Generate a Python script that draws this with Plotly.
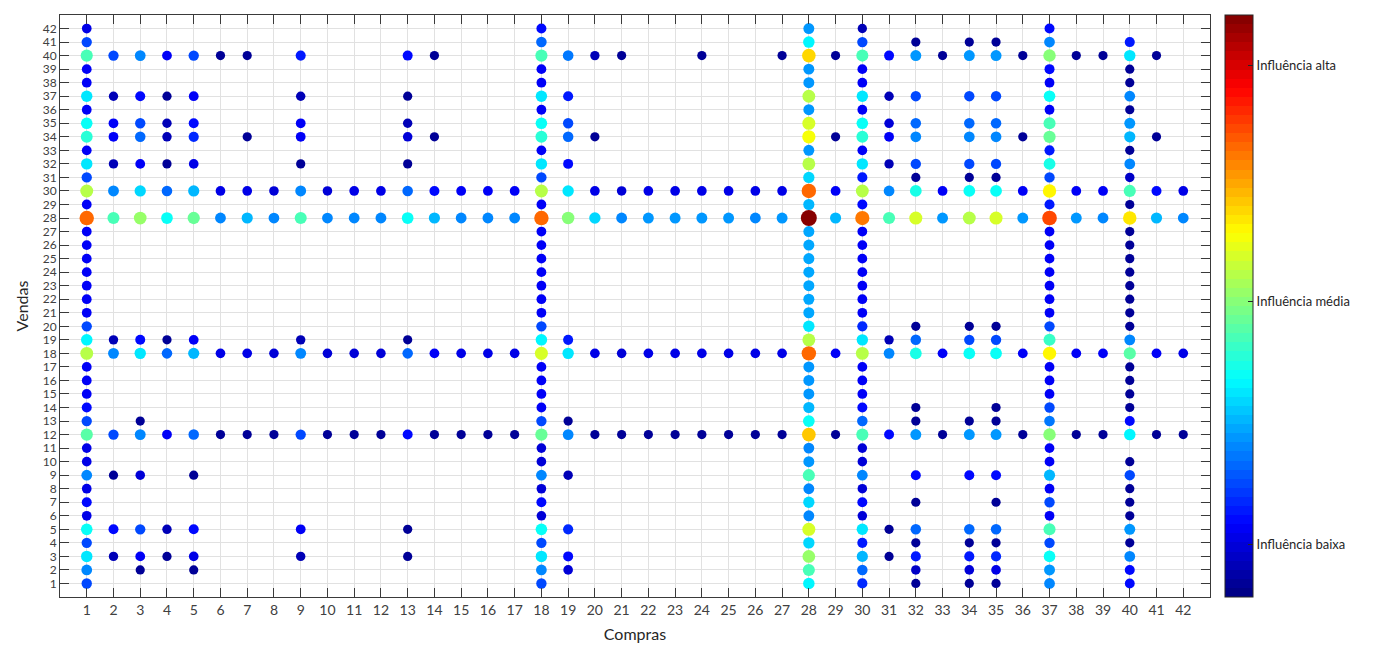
import plotly.graph_objects as go

# ---------------- data ----------------
axis_ticks = list(range(1, 43))

# full columns: values for Vendas = 1..42 (None = no point)
col_1 = [0.20, 0.25, 0.35, 0.19, 0.375, 0.10, 0.14, 0.10, 0.25, 0.10,
         0.10, 0.46, 0.19, 0.14, 0.11, 0.11, 0.11, 0.56, 0.36, 0.19,
         0.11, 0.11, 0.11, 0.11, 0.11, 0.11, 0.11, 0.78, 0.11, 0.56,
         0.19, 0.345, 0.11, 0.41, 0.375, 0.11, 0.345, 0.11, 0.11, 0.45,
         0.19, 0.10]
col_18 = [0.20, 0.25, 0.35, 0.19, 0.375, 0.09, 0.14, 0.09, 0.25, 0.09,
          0.09, 0.47, 0.19, 0.11, 0.11, 0.11, 0.11, 0.58, 0.36, 0.19,
          0.11, 0.11, 0.11, 0.11, 0.11, 0.11, 0.11, 0.78, 0.11, 0.56,
          0.19, 0.345, 0.11, 0.42, 0.375, 0.11, 0.345, 0.11, 0.11, 0.45,
          0.22, 0.14]
col_28 = [0.36, 0.44, 0.53, 0.34, 0.58, 0.265, 0.33, 0.265, 0.45, 0.28,
          0.265, 0.68, 0.39, 0.31, 0.28, 0.28, 0.28, 0.78, 0.56, 0.35,
          0.29, 0.29, 0.29, 0.29, 0.29, 0.29, 0.29, 1.00, 0.31, 0.78,
          0.33, 0.55, 0.28, 0.61, 0.58, 0.28, 0.55, 0.28, 0.28, 0.66,
          0.36, 0.28]
col_30 = [0.17, 0.22, 0.31, 0.156, 0.345, 0.08, 0.14, 0.08, 0.25, 0.08,
          0.08, 0.45, 0.22, 0.14, 0.11, 0.11, 0.11, 0.56, 0.345, 0.17,
          0.11, 0.11, 0.11, 0.11, 0.11, 0.11, 0.11, 0.75, 0.14, 0.56,
          0.156, 0.345, 0.11, 0.41, 0.375, 0.11, 0.345, 0.11, 0.11, 0.44,
          0.19, 0.05]
col_37 = [0.25, 0.28, 0.375, 0.20, 0.44, 0.11, 0.20, 0.11, 0.31, 0.11,
          0.11, 0.50, 0.235, 0.19, 0.11, 0.11, 0.11, 0.625, 0.43, 0.19,
          0.11, 0.11, 0.11, 0.11, 0.11, 0.11, 0.11, 0.81, 0.156, 0.625,
          0.20, 0.40, 0.156, 0.47, 0.44, 0.11, 0.375, 0.11, 0.14, 0.50,
          0.25, 0.14]
col_40 = [0.125, 0.14, 0.25, 0.03, 0.28, 0.03, 0.03, 0.03, 0.20, 0.03,
          None, 0.36, 0.14, 0.03, 0.03, 0.03, 0.03, 0.46, 0.265, 0.03,
          0.03, 0.03, 0.03, 0.03, 0.03, 0.03, 0.03, 0.645, 0.03, 0.45,
          0.07, 0.25, 0.03, 0.31, 0.28, 0.03, 0.25, 0.03, 0.03, 0.345,
          0.156, None]
full_columns = [1, 18, 28, 30, 37, 40]

# full rows: values for Compras = 1..42 (None where a full column already has the point)
row_12 = [None, 0.19, 0.265, 0.11, 0.22, 0.03, 0.03, 0.03, 0.19, 0.03,
          0.03, 0.03, 0.14, 0.03, 0.03, 0.03, 0.03, None, 0.25, 0.03,
          0.03, 0.03, 0.03, 0.03, 0.03, 0.03, 0.03, None, 0.03, None,
          0.14, 0.28, 0.03, 0.28, 0.28, 0.03, None, 0.03, 0.03, None,
          0.03, 0.03]
row_18 = [None, 0.265, 0.345, 0.22, 0.31, 0.10, 0.10, 0.08, 0.265, 0.08,
          0.08, 0.08, 0.22, 0.11, 0.10, 0.10, 0.10, None, 0.345, 0.10,
          0.08, 0.10, 0.10, 0.10, 0.10, 0.10, 0.10, None, 0.11, None,
          0.25, 0.40, 0.12, 0.39, 0.39, 0.11, None, 0.11, 0.11, None,
          0.12, 0.10]
row_28 = [None, 0.44, 0.53, 0.39, 0.47, 0.265, 0.31, 0.25, 0.44, 0.25,
          0.26, 0.265, 0.39, 0.31, 0.265, 0.265, 0.265, None, 0.50, 0.33,
          0.265, 0.28, 0.28, 0.28, 0.28, 0.265, 0.28, None, 0.30, None,
          0.44, 0.58, 0.28, 0.56, 0.58, 0.28, None, 0.28, 0.265, None,
          0.31, 0.25]
row_30 = [None, 0.265, 0.33, 0.22, 0.31, 0.10, 0.10, 0.08, 0.265, 0.08,
          0.10, 0.10, 0.22, 0.14, 0.11, 0.11, 0.11, None, 0.345, 0.10,
          0.08, 0.10, 0.10, 0.10, 0.10, 0.10, 0.10, None, 0.11, None,
          0.25, 0.40, 0.11, 0.39, 0.39, 0.11, None, 0.11, 0.11, None,
          0.14, 0.10]
full_rows = [12, 18, 28, 30]

# remaining isolated points
extra_vendas = [41, 41, 41,
                40, 40, 40, 40, 40, 40, 40, 40, 40, 40, 40, 40, 40, 40, 40, 40, 40, 40, 40, 40, 40, 40, 40, 40,
                37, 37, 37, 37, 37, 37, 37, 37, 37, 37, 37,
                35, 35, 35, 35, 35, 35, 35, 35, 35, 35, 35,
                34, 34, 34, 34, 34, 34, 34, 34, 34, 34, 34, 34, 34, 34, 34, 34, 34,
                32, 32, 32, 32, 32, 32, 32, 32, 32, 32, 32,
                31, 31, 31,
                20, 20, 20,
                19, 19, 19, 19, 19, 19, 19, 19, 19, 19, 19,
                14, 14,
                13, 13, 13, 13, 13,
                9, 9, 9, 9, 9, 9, 9,
                7, 7,
                5, 5, 5, 5, 5, 5, 5, 5, 5, 5, 5,
                4, 4, 4,
                3, 3, 3, 3, 3, 3, 3, 3, 3, 3, 3,
                2, 2, 2, 2, 2, 2,
                1, 1, 1]
extra_compras = [32, 34, 35,
                 2, 3, 4, 5, 6, 7, 9, 13, 14, 19, 20, 21, 24, 27, 29, 31, 32, 33, 34, 35, 36, 38, 39, 41,
                 2, 3, 4, 5, 9, 13, 19, 31, 32, 34, 35,
                 2, 3, 4, 5, 9, 13, 19, 31, 32, 34, 35,
                 2, 3, 4, 5, 7, 9, 13, 14, 19, 20, 29, 31, 32, 34, 35, 36, 41,
                 2, 3, 4, 5, 9, 13, 19, 31, 32, 34, 35,
                 32, 34, 35,
                 32, 34, 35,
                 2, 3, 4, 5, 9, 13, 19, 31, 32, 34, 35,
                 32, 35,
                 3, 19, 32, 34, 35,
                 2, 3, 5, 19, 32, 34, 35,
                 32, 35,
                 2, 3, 4, 5, 9, 13, 19, 31, 32, 34, 35,
                 32, 34, 35,
                 2, 3, 4, 5, 9, 13, 19, 31, 32, 34, 35,
                 3, 5, 19, 32, 34, 35,
                 32, 34, 35]
extra_influencia = [0.03, 0.03, 0.03,
                    0.19, 0.25, 0.11, 0.20, 0.03, 0.03, 0.156, 0.14, 0.03, 0.235, 0.05, 0.03, 0.03, 0.03, 0.03,
                    0.14, 0.28, 0.03, 0.28, 0.28, 0.03, 0.03, 0.03, 0.03,
                    0.05, 0.14, 0.03, 0.11, 0.06, 0.03, 0.156, 0.06, 0.19, 0.19, 0.19,
                    0.11, 0.19, 0.06, 0.14, 0.11, 0.06, 0.19, 0.08, 0.22, 0.22, 0.22,
                    0.11, 0.22, 0.06, 0.17, 0.03, 0.11, 0.08, 0.03, 0.22, 0.03, 0.03, 0.11, 0.25, 0.25, 0.25,
                    0.03, 0.03,
                    0.06, 0.11, 0.03, 0.10, 0.03, 0.03, 0.14, 0.05, 0.19, 0.19, 0.19,
                    0.03, 0.03, 0.03,
                    0.03, 0.03, 0.03,
                    0.06, 0.14, 0.03, 0.11, 0.06, 0.03, 0.156, 0.05, 0.22, 0.20, 0.20,
                    0.03, 0.03,
                    0.03, 0.03, 0.03, 0.03, 0.03,
                    0.03, 0.08, 0.03, 0.06, 0.14, 0.14, 0.14,
                    0.03, 0.03,
                    0.14, 0.19, 0.06, 0.14, 0.11, 0.03, 0.17, 0.03, 0.22, 0.22, 0.22,
                    0.03, 0.03, 0.03,
                    0.06, 0.11, 0.03, 0.10, 0.06, 0.03, 0.14, 0.03, 0.156, 0.156, 0.17,
                    0.03, 0.03, 0.09, 0.07, 0.09, 0.10,
                    0.03, 0.03, 0.03]

colorbar_tickvals = [0.09, 0.507, 0.914]
colorbar_ticktext = ["Influência baixa", "Influência média", "Influência alta"]

# ---------------- assemble points ----------------
xs, ys, vs = [], [], []
for cx, col in zip(full_columns, [col_1, col_18, col_28, col_30, col_37, col_40]):
    for yv, v in zip(axis_ticks, col):
        if v is not None:
            xs.append(cx); ys.append(yv); vs.append(v)
for ry, row in zip(full_rows, [row_12, row_18, row_28, row_30]):
    for xv, v in zip(axis_ticks, row):
        if v is not None:
            xs.append(xv); ys.append(ry); vs.append(v)
xs += extra_compras
ys += extra_vendas
vs += extra_influencia

# draw low values first so strong ones sit on top
order = sorted(range(len(vs)), key=lambda i: vs[i])
xs = [xs[i] for i in order]
ys = [ys[i] for i in order]
vs = [vs[i] for i in order]
sizes = [9 + 7 * v for v in vs]


# MATLAB-like jet colormap, 64 discrete levels
def jet(v):
    r = min(max(1.5 - abs(4 * v - 3), 0), 1)
    g = min(max(1.5 - abs(4 * v - 2), 0), 1)
    b = min(max(1.5 - abs(4 * v - 1), 0), 1)
    return "rgb(%d,%d,%d)" % (round(r * 255), round(g * 255), round(b * 255))


N = 64
jet_scale = []
for i in range(N):
    c = jet((i + 0.5) / N)
    jet_scale.append([i / N, c])
    jet_scale.append([(i + 1) / N, c])

FONT = "Lato, 'Open Sans', sans-serif"
TXT = "#262626"

fig = go.Figure(go.Scatter(
    x=xs, y=ys, mode="markers",
    marker=dict(
        size=sizes, color=vs, colorscale=jet_scale, cmin=0, cmax=1,
        line=dict(width=0), opacity=1,
        colorbar=dict(
            tickvals=colorbar_tickvals, ticktext=colorbar_ticktext,
            x=(1225 - 60) / 1150, xanchor="left", xpad=0, ypad=0,
            y=0.5, yanchor="middle", len=1, lenmode="fraction",
            thickness=28, thicknessmode="pixels",
            outlinewidth=1, outlinecolor=TXT,
            ticks="inside", ticklen=5, tickcolor=TXT,
            tickfont=dict(family=FONT, size=13, color=TXT),
        ),
    ),
    hoverinfo="x+y",
    showlegend=False,
))

axis_common = dict(
    range=[0, 43], tickmode="array", tickvals=axis_ticks,
    ticktext=[str(t) for t in axis_ticks],
    showgrid=True, gridcolor="#e1e1e1", gridwidth=1,
    zeroline=False, showline=True, linecolor="#3a3a3a", linewidth=1,
    mirror="ticks", ticks="inside", ticklen=9, tickcolor="#3a3a3a",
    fixedrange=True, automargin=False,
)

fig.update_layout(
    width=1373, height=646,
    margin=dict(l=60, r=163, t=15, b=49),
    paper_bgcolor="white", plot_bgcolor="white",
    font=dict(family=FONT, color=TXT),
    xaxis=dict(axis_common,
               tickfont=dict(family=FONT, size=14, color="#404040"),
               title=dict(text="Compras", font=dict(family=FONT, size=16, color=TXT), standoff=12)),
    yaxis=dict(axis_common,
               tickfont=dict(family=FONT, size=12, color="#404040"),
               title=dict(text="Vendas", font=dict(family=FONT, size=16, color=TXT), standoff=10)),
)

fig.write_html("out.html", config={"displayModeBar": False},
               post_script="document.body.style.margin='0';")
